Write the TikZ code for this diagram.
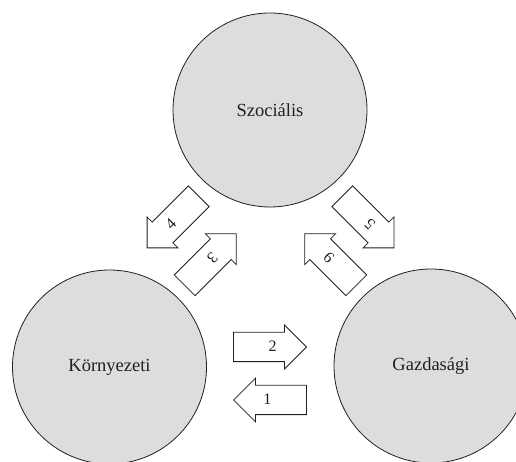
\documentclass[tikz,border=0pt]{standalone}
\usepackage{fontspec}
\setmainfont{Liberation Serif}
\usetikzlibrary{shapes.arrows}
\definecolor{circfill}{HTML}{DCDDDE}
\definecolor{inkc}{HTML}{231F20}
\newcommand{\lnum}[1]{#1\hspace*{20pt}}
\newcommand{\rnum}[1]{\hspace*{20pt}#1}
\tikzset{
  pillar/.style={circle, draw=inkc, line width=0.8pt, fill=circfill, minimum size=194pt, inner sep=0pt,
    text=inkc, font=\fontsize{18.5}{22}\selectfont},
  flowarrow/.style={single arrow, draw=inkc, line width=0.8pt, fill=white, text=inkc,
    minimum height=73pt, minimum width=0pt, single arrow head extend=7.25pt,
    single arrow tip angle=90, text height=10pt, text depth=0pt, inner ysep=9.25pt, inner xsep=2pt,
    font=\fontsize{16}{18}\selectfont, anchor=tip},
  leftarrow/.style={flowarrow, shape border rotate=180}
}
\begin{document}
\begin{tikzpicture}[x=1pt,y=1pt]
\useasboundingbox (0,0) rectangle (516,462);
\clip (0,0) rectangle (516,462);
\node[pillar] (szoc) at (270,352) {Szociális};
\node[pillar] (korny) at (109.5,95) {Környezeti};
\node[pillar] (gazd) at (431,96) {Gazdasági};
\node[flowarrow] (a2) at (307,115) {\rnum{2}};
\node[leftarrow] (a1) at (233,62) {\lnum{1}};
\node[leftarrow, rotate=45] (a4) at (146.7,213.7) {\lnum{4}};
\node[leftarrow, rotate=-135] (a3) at (236.7,228.7) {\lnum{3}};
\node[leftarrow, rotate=135] (a5) at (394.3,213.7) {\lnum{5}};
\node[leftarrow, rotate=-45] (a6) at (304.3,228.7) {\lnum{6}};
\end{tikzpicture}
\end{document}
